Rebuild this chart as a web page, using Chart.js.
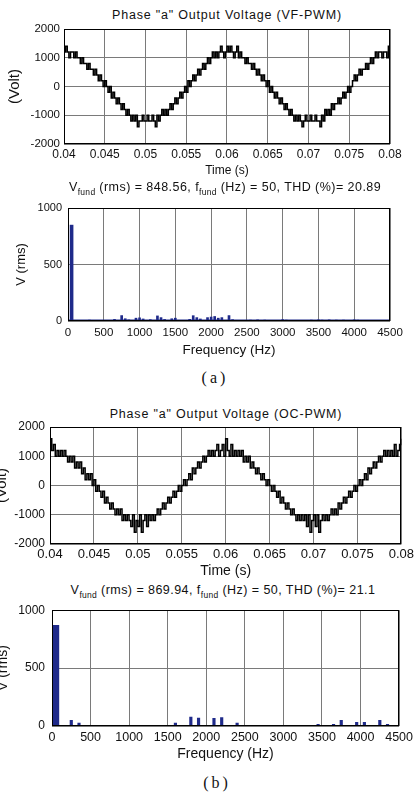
<!DOCTYPE html>
<html><head><meta charset="utf-8">
<script src="https://cdn.jsdelivr.net/npm/chart.js@4.4.1/dist/chart.umd.min.js"></script>
<style>
html,body{margin:0;padding:0;background:#fff;width:417px;height:792px;overflow:hidden;font-family:"Liberation Sans",Arial,sans-serif;color:#111}
.panel{position:absolute;left:0;width:417px}
canvas{display:block}
.t{position:absolute;white-space:nowrap;transform:translate(-50%,-50%);line-height:1}
sub{font-size:8.5px;vertical-align:-4px;line-height:0;letter-spacing:0.3px}
.ttl{font-size:12.5px;letter-spacing:0.8px}
.sub{font-size:12.5px;letter-spacing:0.45px}
.cap{font-family:"Liberation Serif","Times New Roman",serif;font-size:16px;letter-spacing:3px}
</style></head><body>
<div class="t ttl" style="left:227px;top:15px">Phase "a" Output Voltage (VF-PWM)</div>
<div class="panel" style="top:0;height:180px"><canvas id="c1" width="417" height="180"></canvas></div>
<div class="t sub" style="left:225px;top:187px">V<sub>fund</sub> (rms) = 848.56, f<sub>fund</sub> (Hz) = 50, THD (%)= 20.89</div>
<div class="panel" style="top:190px;height:170px"><canvas id="c2" width="417" height="170"></canvas></div>
<div class="t cap" style="left:215px;top:378px">(a)</div>
<div class="t ttl" style="left:226px;top:414px">Phase "a" Output Voltage (OC-PWM)</div>
<div class="panel" style="top:400px;height:180px"><canvas id="c3" width="417" height="180"></canvas></div>
<div class="t sub" style="left:223px;top:590px">V<sub>fund</sub> (rms) = 869.94, f<sub>fund</sub> (Hz) = 50, THD (%)= 21.1</div>
<div class="panel" style="top:596px;height:170px"><canvas id="c4" width="417" height="170"></canvas></div>
<div class="t cap" style="left:217px;top:783px">(b)</div>
<script>
// ---- data ----
const sampleStart = 0.04;      // s
const sampleStep = 0.0002;     // s
const voltVF = [
 1200,1400,1200,1000,1200,1200,1000,1200,1000,1000,
 800,1000,800,800,600,800,600,600,400,600,
 400,200,400,200,0,200,0,-200,0,-400,
 -200,-400,-600,-400,-600,-800,-600,-800,-1000,-800,
 -1000,-1200,-1000,-1200,-1000,-1400,-1200,-1200,-1000,-1200,
 -1200,-1000,-1200,-1200,-1000,-1200,-1400,-1000,-1200,-1000,
 -800,-1000,-800,-1000,-800,-600,-800,-600,-400,-600,
 -400,-200,-400,-200,0,-200,200,0,200,400,
 200,400,600,400,600,800,600,800,1000,800,
 1000,1200,1000,1200,1000,1200,1400,1200,1000,1200,
 1400,1200,1400,1200,1000,1200,1400,1000,1200,1000,
 1000,800,1000,800,800,600,800,600,400,600,
 400,200,400,200,0,200,-200,0,-200,-400,
 -200,-400,-600,-400,-600,-800,-600,-800,-1000,-800,
 -1000,-1200,-1000,-1200,-1000,-1200,-1400,-1200,-1000,-1200,
 -1200,-1000,-1200,-1200,-1000,-1200,-1200,-1400,-1000,-1200,
 -800,-1000,-800,-1000,-600,-800,-600,-600,-400,-600,
 -400,-200,-400,-200,0,-200,0,200,400,200,
 400,600,400,600,600,800,600,800,1000,800,
 1000,1200,1000,1200,1200,1000,1200,1200,1000,1400,
 1200];
const voltOC = [
 1600,1200,1400,1000,1200,1000,1200,1000,1200,1000,
 800,1000,800,1000,600,800,600,800,400,600,
 200,400,200,400,0,200,-200,0,-200,-400,
 -200,-600,-400,-600,-800,-600,-800,-1000,-800,-1000,
 -800,-1200,-1000,-1200,-1000,-1200,-1400,-1000,-1600,-1200,
 -1400,-1000,-1600,-1200,-1000,-1400,-1000,-1200,-1000,-1200,
 -1000,-800,-1000,-800,-600,-800,-600,-400,-600,-400,
 -200,-400,-200,0,-200,0,200,0,200,400,
 200,600,400,600,800,600,800,1000,800,1000,
 1200,1000,1200,1000,1200,1400,1000,1200,1400,1000,
 1600,1200,1000,1400,1000,1200,1000,1200,1000,1200,
 800,1000,800,1000,600,800,600,400,600,400,
 200,400,200,0,200,0,-200,0,-200,-400,
 -200,-600,-400,-600,-800,-600,-800,-1000,-800,-1000,
 -1200,-1000,-1200,-1000,-1200,-1000,-1400,-1000,-1600,-1200,
 -1000,-1400,-1000,-1600,-1200,-1000,-1200,-1000,-1200,-1000,
 -800,-1000,-800,-1000,-600,-800,-600,-400,-600,-400,
 -200,-400,-200,0,-200,0,200,0,200,400,
 200,600,400,600,800,600,800,1000,800,1000,
 1200,1000,1200,1000,1200,1000,1400,1000,1200,1400,
 1600];
const fundFreqA = [50];
const fundVrmsA = [848.56];
const harmFreqA = [300,650,750,800,850,950,1000,1050,1150,1250,1300,1350,1450,1500,1700,1750,1800,1850,1950,2000,2050,2100,2150,2250,2300,2550,2650,2750,3000,3050,3250,3400,3500,3550,3650,3750,3850,4000,4050];
const harmVrmsA = [8,15,48,20,10,25,28,18,12,45,30,14,20,25,15,47,30,18,30,35,40,25,30,48,12,8,10,8,12,8,6,8,10,8,10,8,8,10,8];
const floorFreqA = [0, 4500];
const floorVrmsA = [4, 4];
const fundFreqB = [50];
const fundVrmsB = [869.94];
const harmFreqB = [250,350,1600,1800,1900,2100,2200,2400,3450,3650,3750,3950,4050,4250,4350];
const harmVrmsB = [49,26,26,77,69,66,72,26,14,14,49,31,31,49,14];
const timeTicks = [0.04,0.045,0.05,0.055,0.06,0.065,0.07,0.075,0.08];
const timeTickLabels = ['0.04','0.045','0.05','0.055','0.06','0.065','0.07','0.075','0.08'];
const voltTicks = [-2000,-1000,0,1000,2000];
const freqTicks = [0,500,1000,1500,2000,2500,3000,3500,4000,4500];
const vrmsTicks = [0,500,1000];

// ---- drawing ----
Chart.defaults.font.family = '"Liberation Sans", Arial, sans-serif';
Chart.defaults.color = '#111';
const BLUE = '#1f2a8a';
const GRID = '#7a7a7a';
const boxPlugin = {id:'box', afterDraw(c){
  const a=c.chartArea, ctx=c.ctx; ctx.save(); ctx.strokeStyle='#000'; ctx.lineWidth=1;
  ctx.strokeRect(Math.round(a.left)+0.5, Math.round(a.top)+0.5, Math.round(a.right-a.left)-1, Math.round(a.bottom-a.top)-1);
  ctx.restore();}};
const pts = (xs, ys) => ys.map((y,i)=>({x:xs[i], y}));
const series = (vals) => vals.map((v,i)=>({x: sampleStart + i*sampleStep, y: v}));
function setTicks(arr){ return s => { s.ticks = arr.map(v=>({value:v})); }; }
const plain = v => String(v);

function timeChart(id, vals, g){
  return new Chart(document.getElementById(id), {
    type:'line',
    data:{datasets:[{data:series(vals), borderColor:'#000', borderWidth:1.5, pointRadius:0, stepped:'before', fill:false}]},
    options:{responsive:false, animation:false, events:[],
      layout:{padding:{top:g.top, right:g.right, left:0, bottom:0}},
      plugins:{legend:{display:false}, tooltip:{enabled:false}},
      scales:{
        x:{type:'linear', min:0.04, max:0.08, afterBuildTicks:setTicks(timeTicks),
           ticks:{callback:(v,i)=>timeTickLabels[i], font:{size:g.xtick}, color:'#111', padding:g.tpad, maxRotation:0, autoSkip:false},
           grid:{color:GRID, drawTicks:false}, border:{display:false},
           title:{display:true, text:'Time (s)', font:{size:g.xt}, color:'#111', padding:{top:0,bottom:g.xtb}},
           afterFit:s=>{s.height=g.xh;}},
        y:{min:-2000, max:2000, afterBuildTicks:setTicks(voltTicks),
           ticks:{font:{size:g.ytick}, color:'#111', padding:g.ypad, autoSkip:false, callback:plain},
           grid:{color:GRID, drawTicks:false}, border:{display:false},
           title:{display:true, text:'(Volt)', font:{size:15}, color:'#111', padding:{top:g.ytp,bottom:0}},
           afterFit:s=>{s.width=g.yw;}}
      }},
    plugins:[boxPlugin]
  });
}
function specChart(id, ds, g){
  return new Chart(document.getElementById(id), {
    type:'bar',
    data:{datasets:ds},
    options:{responsive:false, animation:false, events:[],
      layout:{padding:{top:g.top, right:g.right, left:0, bottom:0}},
      plugins:{legend:{display:false}, tooltip:{enabled:false}},
      scales:{
        x:{type:'linear', min:0, max:4500, offset:false, afterBuildTicks:setTicks(freqTicks),
           ticks:{font:{size:g.xtick}, color:'#111', padding:g.tpad, maxRotation:0, autoSkip:false, callback:plain},
           grid:{color:GRID, drawTicks:false, offset:false}, border:{display:false},
           title:{display:true, text:'Frequency (Hz)', font:{size:g.xt}, color:'#111', padding:{top:0,bottom:g.xtb}},
           afterFit:s=>{s.height=g.xh;}},
        y:{min:0, max:1000, afterBuildTicks:setTicks(vrmsTicks),
           ticks:{font:{size:g.ytick}, color:'#111', padding:g.ypad, autoSkip:false, callback:plain},
           grid:{color:GRID, drawTicks:false}, border:{display:false},
           title:{display:true, text:'V (rms)', font:{size:g.yt}, color:'#111', padding:{top:g.ytp,bottom:0}},
           afterFit:s=>{s.width=g.yw;}}
      }},
    plugins:[boxPlugin]
  });
}

timeChart('c1', voltVF, {top:29, right:27, xtick:12, ytick:11.5, tpad:3, xt:12, xtb:2, xh:36, ypad:4, ytp:6, yw:64});
specChart('c2', [
  {type:'line', data:pts(floorFreqA, floorVrmsA), borderColor:BLUE, borderWidth:2, pointRadius:0},
  {data:pts(fundFreqA, fundVrmsA), backgroundColor:BLUE, barThickness:3, grouped:false},
  {data:pts(harmFreqA, harmVrmsA), backgroundColor:BLUE, barThickness:2, grouped:false}
], {top:18, right:27, xtick:11.5, ytick:11, tpad:5, xt:13.5, xtb:1.2, xh:39, ypad:6, yt:13, ytp:14, yw:68});
timeChart('c3', voltOC, {top:27, right:13, xtick:13, ytick:12, tpad:3, xt:14, xtb:0, xh:36, ypad:5, ytp:-7, yw:50});
specChart('c4', [
  {data:pts(fundFreqB, fundVrmsB), backgroundColor:BLUE, barThickness:6, grouped:false},
  {data:pts(harmFreqB, harmVrmsB), backgroundColor:BLUE, barThickness:2.5, grouped:false}
], {top:13, right:12, xtick:12.5, ytick:12, tpad:4, xt:14, xtb:3.6, xh:40, ypad:7, yt:14, ytp:-5, yw:52});
</script>
</body></html>
